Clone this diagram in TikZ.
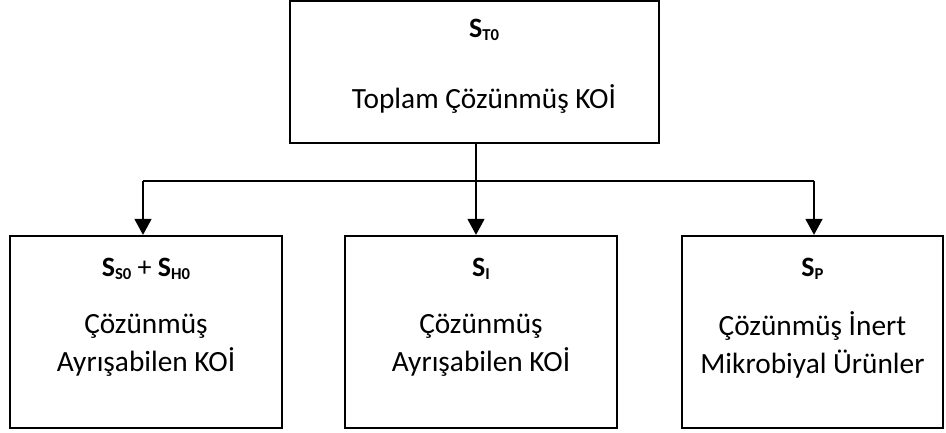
\documentclass[tikz,border=0pt]{standalone}
\usepackage{fontspec}
\setmainfont{Carlito}
\usetikzlibrary{arrows.meta}
% bold quantity symbol with a lowered subscript
\newcommand\qsym[2]{\textbf{#1\raisebox{-2.6pt}{\fontsize{12.5pt}{12.5pt}\selectfont #2}}}
\begin{document}
\begin{tikzpicture}[x=0.75pt,y=-0.75pt,
  box/.style={draw=black,line width=1.6pt,minimum height=#1*0.75pt,inner sep=0pt},
  title/.style={font=\fontsize{21pt}{24pt}\selectfont,inner sep=0pt,anchor=base},
  body/.style={font=\fontsize{22pt}{28.5pt}\selectfont,align=center,inner sep=0pt},
  link/.style={line width=1.8pt},
  arrow/.style={link,-{Triangle[length=12pt,width=12.5pt]}}]
\useasboundingbox (0,0) rectangle (946,432);

% total soluble COD
\node[box=142,minimum width=369*0.75pt] (top) at (474.5,72) {};
\node[title] (toptitle) at (484,37) {\qsym{S}{T0}};
\node[body,anchor=base] (toptext) at (484,108) {Toplam Çözünmüş KOİ};

% fractions
\node[box=192,minimum width=272*0.75pt] (left) at (146,332) {};
\node[box=192,minimum width=272*0.75pt] (mid) at (481,332) {};
\node[box=192,minimum width=261*0.75pt] (right) at (812.5,332) {};

\node[title] (lefttitle) at (146,276) {\qsym{S}{S0} + \qsym{S}{H0}};
\node[title] (midtitle) at (481,276) {\qsym{S}{I}};
\node[title] (righttitle) at (812.5,276) {\qsym{S}{P}};

\node[body] (lefttext) at (146,345) {Çözünmüş\\Ayrışabilen KOİ};
\node[body] (midtext) at (481,345) {Çözünmüş\\Ayrışabilen KOİ};
\node[body] (righttext) at (812.5,345) {Çözünmüş İnert\\Mikrobiyal Ürünler};

% branching connectors
\coordinate (split) at (476,181);
\coordinate (lsplit) at (143,181);
\coordinate (rsplit) at (814,181);
\draw[link] (top.south -| split) -- (split);
\draw[link] (lsplit) -- (rsplit);
\draw[arrow] (lsplit) -- (lsplit |- left.north);
\draw[arrow] (split) -- (split |- mid.north);
\draw[arrow] (rsplit) -- (rsplit |- right.north);
\end{tikzpicture}
\end{document}
